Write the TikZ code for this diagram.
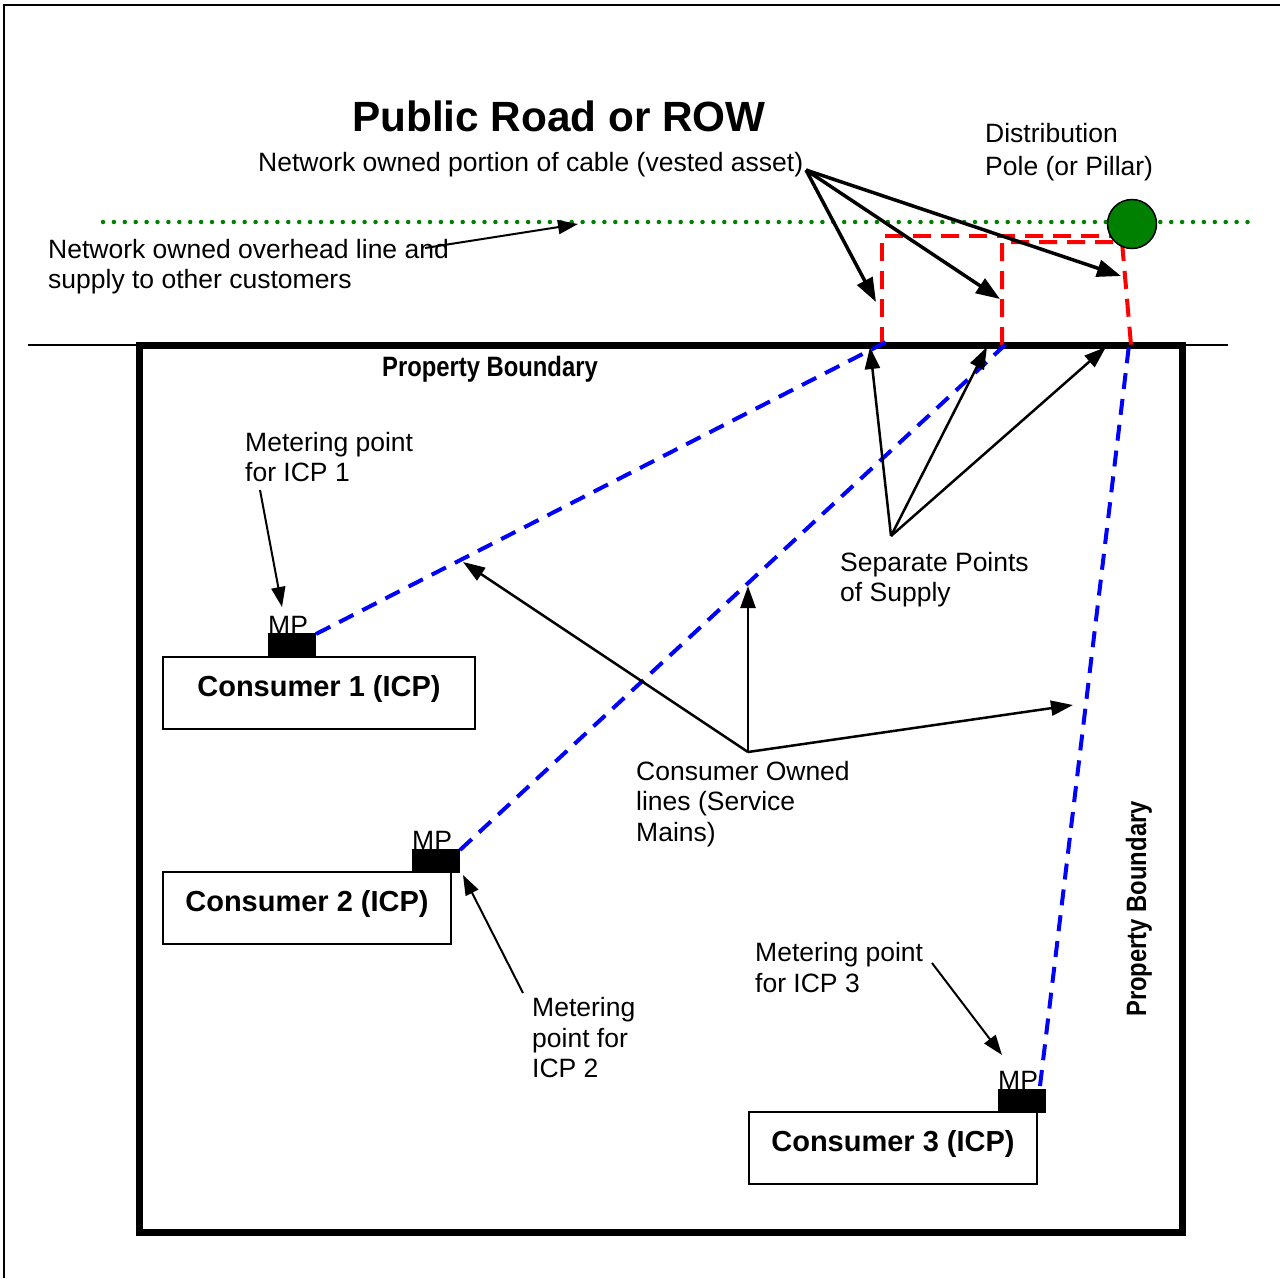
\documentclass[tikz,border=0pt]{standalone}
\usepackage{fontspec}
\setmainfont{Liberation Sans}
\newfontfamily\narrowfont[FakeStretch=0.85]{Liberation Sans}
\usetikzlibrary{arrows.meta}
\definecolor{poleGreen}{RGB}{0,128,0}
\definecolor{lineBlue}{RGB}{0,0,255}
\definecolor{lineRed}{RGB}{255,0,0}
\tikzset{
  lbl/.style={font=\fontsize{26.5}{30.5}\selectfont, align=left, inner sep=0pt, anchor=base west},
  pbtext/.style={font=\narrowfont\bfseries\fontsize{28}{30}\selectfont, inner sep=0pt, anchor=base},
  consbox/.style={draw, line width=2pt, minimum width=#1, minimum height=72pt, inner sep=0pt,
    font=\bfseries\fontsize{29}{32}\selectfont, text height=21pt, text depth=14pt},
  mpbox/.style={fill=black, minimum width=48pt, minimum height=24pt, inner sep=0pt},
  tip/.style={-{Triangle[length=24pt,width=17pt]}},
  thickarrow/.style={tip, line width=3.5pt},
  midarrow/.style={-{Triangle[length=22pt,width=15pt]}, line width=2.5pt},
  thinarrow/.style={-{Triangle[length=20pt,width=14pt]}, line width=2pt},
  bluedash/.style={lineBlue, line width=4pt, dash pattern=on 16pt off 10pt},
  reddash/.style={lineRed, line width=4pt, dash pattern=on 18pt off 10pt},
}
\begin{document}
\begin{tikzpicture}[x=1pt,y=-1pt]
\useasboundingbox (0,0) rectangle (1280,1278);
\fill[white] (0,0) rectangle (1280,1278);
% outer frame (left and top edges)
\draw[line width=2pt] (4,1278) -- (4,5) -- (1280,5);

% overhead line
\coordinate (ohA) at (103,222);
\coordinate (ohB) at (1255,222);
\draw[poleGreen, line width=4.5pt, line cap=round, dash pattern=on 0pt off 10.9pt] (ohA) -- (ohB);

% road/property line
\coordinate (rlA) at (28,345);
\coordinate (rlB) at (1228,345);
\draw[line width=1.5pt] (rlA) -- (rlB);

% property boundary rectangle
\node[draw, line width=7pt, minimum width=1043pt, minimum height=887pt, inner sep=0pt] (prop) at (660.5,788.5) {};

% red dashed network-owned cable portions
\coordinate (r1a) at (882,345);
\coordinate (r1b) at (882,236);
\coordinate (r1c) at (1113,236);
\coordinate (r2a) at (1002,345);
\coordinate (r2b) at (1002,242);
\coordinate (r2c) at (1122,242);
\coordinate (r2d) at (1131,345);
\draw[reddash] (r1a) -- (r1b) -- (r1c);
\draw[reddash] (r2a) -- (r2b) -- (r2c) -- (r2d);

% pole
\node[circle, draw, fill=poleGreen, line width=1.5pt, minimum size=49pt, inner sep=0pt] (pole) at (1132,224) {};

% consumers
\node[consbox=312pt] (c1) at (319,692.5) {Consumer 1 (ICP)};
\node[consbox=288pt] (c2) at (307,907.5) {Consumer 2 (ICP)};
\node[consbox=288pt] (c3) at (893,1147.5) {Consumer 3 (ICP)};

\node[mpbox] (mp1) at (292,645) {};
\node[mpbox] (mp2) at (436,861) {};
\node[mpbox] (mp3) at (1022,1101) {};
\node[lbl] (mp1t) at (268,634) {MP};
\node[lbl] (mp2t) at (412,849) {MP};
\node[lbl] (mp3t) at (998,1089) {MP};

% blue consumer-owned lines
\coordinate (b1s) at (316,634);
\coordinate (b1e) at (886,342);
\coordinate (b2s) at (460,850);
\coordinate (b2e) at (1005,345);
\coordinate (b3s) at (1040,1086);
\coordinate (b3e) at (1129,345);
\draw[bluedash] (b1s) -- (b1e);
\draw[bluedash] (b2s) -- (b2e);
\draw[bluedash] (b3s) -- (b3e);

% texts (multi-line nodes: base anchor is the last line's baseline)
\node[font=\bfseries\fontsize{42.3}{46}\selectfont, inner sep=0pt, anchor=base] (title) at (559,131.5) {Public Road or ROW};
\node[lbl] (vested) at (258,171.5) {Network owned portion of cable (vested asset)};
\node[lbl] (poletext) at (985,175) {Distribution\\[2.5pt]Pole (or Pillar)};
\node[lbl] (ohtext) at (48,288.5) {Network owned overhead line and\\supply to other customers};
\node[pbtext] (pbtop) at (490,376) {Property Boundary};
\node[pbtext, rotate=90, anchor=base] (pbside) at (1146,909) {Property Boundary};
\node[lbl] (met1) at (245,481.5) {Metering point\\for ICP 1};
\node[lbl] (sep) at (840,601.5) {Separate Points\\of Supply};
\node[lbl] (cown) at (636,841) {Consumer Owned\\lines (Service\\Mains)};
\node[lbl] (met2) at (532,1077.5) {Metering\\point for\\ICP 2};
\node[lbl] (met3) at (755,992) {Metering point\\for ICP 3};

% arrows: overhead line
\coordinate (ohs) at (425,248);
\coordinate (ohe) at (578,224);
\draw[thinarrow] (ohs) -- (ohe);

% arrows: vested asset
\coordinate (vs) at (806,170);
\coordinate (v1) at (876,302);
\coordinate (v2) at (1000,299);
\coordinate (v3) at (1121,276);
\draw[thickarrow] (vs) -- (v1);
\draw[thickarrow] (vs) -- (v2);
\draw[thickarrow] (vs) -- (v3);

% arrows: separate points of supply
\coordinate (ss) at (891,536);
\coordinate (s1) at (870,347);
\coordinate (s2) at (987,347);
\coordinate (s3) at (1106,347);
\draw[midarrow] (ss) -- (s1);
\draw[midarrow] (ss) -- (s2);
\draw[midarrow] (ss) -- (s3);

% arrows: consumer owned lines
\coordinate (cs) at (748,752);
\coordinate (cl1) at (463,562);
\coordinate (cl2) at (748,586);
\coordinate (cl3) at (1073,705);
\draw[midarrow] (cs) -- (cl1);
\draw[midarrow] (cs) -- (cl2);
\draw[midarrow] (cs) -- (cl3);

% arrows: metering points
\coordinate (m1s) at (260,490);
\coordinate (m1e) at (282,607);
\draw[thinarrow] (m1s) -- (m1e);
\coordinate (m2s) at (523,993);
\coordinate (m2e) at (463,875);
\draw[thinarrow] (m2s) -- (m2e);
\coordinate (m3s) at (932,963);
\coordinate (m3e) at (1002,1055);
\draw[thinarrow] (m3s) -- (m3e);
\end{tikzpicture}
\end{document}
